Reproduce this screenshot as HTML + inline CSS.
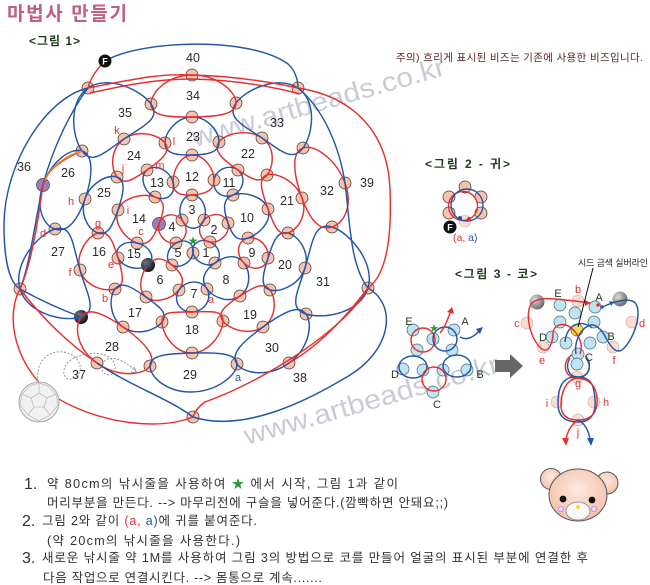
<!DOCTYPE html>
<html><head><meta charset="utf-8"><style>
html,body{margin:0;padding:0;background:#fff;}
svg{display:block;}
.bd circle{fill:#f6c3ae;stroke:#4e362e;stroke-width:0.75;}
.lb circle{fill:#bfe3f1;stroke:#4b6372;stroke-width:0.7;}
.fp circle{fill:#f9ddd2;stroke:#c9a79a;stroke-width:0.6;}
.n{font-family:"Liberation Sans",sans-serif;font-size:12.5px;fill:#2a2a2a;text-anchor:middle;}
.lt{font-family:"Liberation Sans",sans-serif;font-size:11px;fill:#e63030;text-anchor:middle;}
.kr{font-family:"Liberation Sans","Noto Sans CJK KR",sans-serif;}
.ln{fill:none;stroke-width:1.45;}
</style></head><body>
<svg id="s" width="650" height="585" viewBox="0 0 650 585" xmlns="http://www.w3.org/2000/svg">
<defs>
<radialGradient id="gk" cx="0.35" cy="0.35" r="0.7"><stop offset="0" stop-color="#777"/><stop offset="1" stop-color="#111"/></radialGradient>
<radialGradient id="gg" cx="0.35" cy="0.35" r="0.7"><stop offset="0" stop-color="#ddd"/><stop offset="1" stop-color="#666"/></radialGradient>
<radialGradient id="gp" cx="0.5" cy="0.4" r="0.7"><stop offset="0" stop-color="#fde9df"/><stop offset="1" stop-color="#f3b9a0"/></radialGradient>
</defs>

<!-- watermarks -->
<text class="kr" x="195" y="147" font-size="27" fill="#c9ccd5" textLength="262" lengthAdjust="spacingAndGlyphs" transform="rotate(-16 195 147)">www.artbeads.co.kr</text>
<text class="kr" x="247" y="445" font-size="27" fill="#c9ccd5" textLength="264" lengthAdjust="spacingAndGlyphs" transform="rotate(-16 247 445)">www.artbeads.co.kr</text>

<!-- titles -->
<text class="kr" x="7" y="20" font-size="19" font-weight="bold" fill="#c0607c" textLength="120" lengthAdjust="spacing">마법사 만들기</text>
<text class="kr" x="29" y="45" font-size="12" font-weight="bold" fill="#1e3b1e" textLength="51" lengthAdjust="spacing">&lt;그림 1&gt;</text>
<text class="kr" x="396" y="61" font-size="10.5" fill="#5a2828" textLength="247" lengthAdjust="spacing">주의) 흐리게 표시된 비즈는 기존에 사용한 비즈입니다.</text>
<text class="kr" x="425" y="168" font-size="12" font-weight="bold" fill="#1e3b1e" textLength="85" lengthAdjust="spacing">&lt;그림 2 - 귀&gt;</text>
<text class="kr" x="455" y="278" font-size="12" font-weight="bold" fill="#1e3b1e" textLength="82" lengthAdjust="spacing">&lt;그림 3 - 코&gt;</text>

<!-- main beads -->
<g class="bd">
<circle cx="192" cy="75" r="6"/><circle cx="88" cy="88" r="6"/><circle cx="298" cy="88" r="6"/>
<circle cx="151" cy="104" r="6"/><circle cx="236" cy="103" r="6"/><circle cx="192" cy="117" r="6"/>
<circle cx="124" cy="139" r="6"/><circle cx="165" cy="143" r="6"/><circle cx="219" cy="142" r="6"/>
<circle cx="262" cy="138" r="6"/><circle cx="303" cy="148" r="6"/><circle cx="82" cy="151" r="6"/>
<circle cx="192" cy="155" r="6"/><circle cx="147" cy="170" r="6"/><circle cx="117" cy="177" r="6"/>
<circle cx="173" cy="182" r="6"/><circle cx="214" cy="180" r="6"/><circle cx="238" cy="170" r="6"/>
<circle cx="267" cy="175" r="6"/><circle cx="345" cy="183" r="6"/><circle cx="85" cy="199" r="6"/>
<circle cx="155" cy="197" r="6"/><circle cx="192" cy="195" r="6"/><circle cx="233" cy="195" r="6"/>
<circle cx="302" cy="198" r="6"/><circle cx="118" cy="210" r="6"/><circle cx="182" cy="220" r="6"/>
<circle cx="204" cy="220" r="6"/><circle cx="228" cy="223" r="6"/><circle cx="268" cy="209" r="6"/>
<circle cx="98" cy="233" r="6"/><circle cx="55" cy="229" r="6"/><circle cx="137" cy="243" r="6"/>
<circle cx="176" cy="243" r="6"/><circle cx="210" cy="242" r="6"/><circle cx="248" cy="238" r="6"/>
<circle cx="288" cy="233" r="6"/><circle cx="332" cy="227" r="6"/><circle cx="193" cy="253" r="6"/>
<circle cx="118" cy="258" r="6"/><circle cx="172" cy="265" r="6"/><circle cx="215" cy="263" r="6"/>
<circle cx="244" cy="263" r="6"/><circle cx="268" cy="258" r="6"/><circle cx="305" cy="268" r="6"/>
<circle cx="80" cy="270" r="6"/><circle cx="20" cy="289" r="6"/><circle cx="115" cy="289" r="6"/>
<circle cx="146" cy="297" r="6"/><circle cx="179" cy="290" r="6"/><circle cx="207" cy="289" r="6"/>
<circle cx="240" cy="296" r="6"/><circle cx="270" cy="290" r="6"/><circle cx="368" cy="288" r="6"/>
<circle cx="192" cy="312" r="6"/><circle cx="162" cy="322" r="6"/><circle cx="223" cy="321" r="6"/>
<circle cx="123" cy="327" r="6"/><circle cx="263" cy="327" r="6"/><circle cx="306" cy="314" r="6"/>
<circle cx="192" cy="353" r="6"/><circle cx="97" cy="363" r="6"/><circle cx="150" cy="366" r="6"/>
<circle cx="237" cy="364" r="6"/><circle cx="289" cy="363" r="6"/><circle cx="193" cy="417" r="6"/>
</g>
<circle cx="43" cy="185" r="6.5" fill="#9a7fb8" stroke="#4a3a5a" stroke-width="0.7"/>
<circle cx="159" cy="224" r="6.5" fill="#9a7fb8" stroke="#4a3a5a" stroke-width="0.7"/>
<circle cx="148" cy="265" r="7" fill="url(#gk)"/>
<circle cx="81" cy="317" r="7" fill="url(#gk)"/>

<!-- main loops (generated) -->
<g id="loops"></g>

<!-- outer hand-drawn lines -->
<g class="ln">
<path stroke="#2356a8" d="M105,61 C140,40 250,36 288,64 C295,70 298,80 298,88"/>
<path stroke="#e63030" d="M105,61 C96,70 90,80 88,88 C130,80 160,73 192,75 C235,76 270,82 298,88"/>
<path stroke="#e63030" d="M90,93 C130,84 160,79 192,79 C235,80 270,86 300,94"/>
<path stroke="#2356a8" d="M88,88 C45,98 4,165 4,225 C4,262 10,283 20,289 C30,265 36,215 43,185 C52,150 70,112 88,88"/>
<path stroke="#e63030" d="M82,151 C60,160 46,172 43,185 C38,220 32,262 20,289"/>
<path stroke="#f08a20" d="M82,151 C66,155 51,167 45,180"/>
<path stroke="#e63030" d="M298,88 C345,95 388,125 390,190 C392,240 386,275 368,288"/>
<path stroke="#2356a8" d="M298,88 C325,110 340,150 345,183 C350,222 350,265 368,288"/>
<path stroke="#2356a8" d="M368,288 C398,305 392,352 345,378 C300,405 240,432 193,417"/>
<path stroke="#e63030" d="M368,288 C345,330 262,382 205,402 C199,406 195,411 193,417"/>
<path stroke="#e63030" d="M368,288 C345,318 320,345 289,363"/>
<path stroke="#e63030" d="M20,289 C2,322 20,382 70,405 C110,424 160,430 193,417"/>
<path stroke="#e63030" d="M20,289 C42,318 70,345 97,363"/>
<path stroke="#2356a8" d="M97,363 C130,386 168,398 193,417"/>
<path stroke="#2356a8" d="M20,289 C40,300 62,310 81,317"/>
</g>

<!-- F bead -->
<circle cx="105" cy="61" r="6.5" fill="#111"/>
<text x="105" y="64.5" font-family="Liberation Sans,sans-serif" font-size="9" font-weight="bold" fill="#fff" text-anchor="middle">F</text>
<!-- star -->
<text x="193" y="245" font-family="DejaVu Sans,sans-serif" font-size="12" fill="#2a9a3a" text-anchor="middle">★</text>

<!-- numbers -->
<g class="n">
<text x="206" y="257">1</text><text x="214" y="234">2</text><text x="192" y="214">3</text><text x="172" y="231">4</text>
<text x="178" y="257">5</text><text x="160" y="284">6</text><text x="194" y="298">7</text><text x="226" y="284">8</text>
<text x="252" y="257">9</text><text x="247" y="222">10</text><text x="229" y="187">11</text><text x="192" y="181">12</text>
<text x="157" y="187">13</text><text x="139" y="223">14</text><text x="134" y="258">15</text><text x="99" y="256">16</text>
<text x="135" y="317">17</text><text x="192" y="334">18</text><text x="250" y="319">19</text><text x="285" y="269">20</text>
<text x="287" y="205">21</text><text x="248" y="158">22</text><text x="193" y="141">23</text><text x="134" y="160">24</text>
<text x="104" y="197">25</text><text x="68" y="177">26</text><text x="58" y="256">27</text><text x="112" y="351">28</text>
<text x="190" y="379">29</text><text x="272" y="352">30</text><text x="323" y="286">31</text><text x="327" y="195">32</text>
<text x="277" y="127">33</text><text x="193" y="100">34</text><text x="125" y="117">35</text><text x="24" y="171">36</text>
<text x="79" y="379">37</text><text x="300" y="382">38</text><text x="367" y="187">39</text><text x="193" y="62">40</text>
</g>
<g class="lt">
<text x="117" y="134">k</text><text x="174" y="145">l</text><text x="160" y="169">m</text><text x="123" y="172">j</text>
<text x="71" y="205">h</text><text x="128" y="214">i</text><text x="98" y="227">g</text><text x="43" y="237">d</text>
<text x="141" y="235">c</text><text x="111" y="268">e</text><text x="70" y="276">f</text><text x="105" y="302">b</text>
<text x="211" y="303">a</text><text x="238" y="381" style="fill:#2356a8">a</text>
</g>

<!-- soccer ball + dotted arrow -->
<g>
<circle cx="39" cy="402" r="20" fill="#f1f1f1" stroke="#a8a8a8" stroke-width="1"/>
<g fill="none" stroke="#bdbdbd" stroke-width="0.8">
<polygon points="39,393 47,398 44,407 34,407 31,398"/>
<path d="M39,393 L39,383 M47,398 L56,394 M44,407 L50,415 M34,407 L28,415 M31,398 L22,394 M39,383 L30,386 L22,394 M39,383 L48,386 L56,394 M22,394 L20,405 L28,415 L39,421 L50,415 L58,405 L56,394"/>
</g>
<path d="M38,382 C35,362 48,350 63,352 C80,354 86,372 74,378 C63,384 58,366 74,358 C92,350 112,352 115,366 C117,378 100,378 102,365 C106,352 126,360 136,372" fill="none" stroke="#888" stroke-width="0.9" stroke-dasharray="2,1.6"/>
<path d="M131,372 L137,373 L134,367" fill="none" stroke="#888" stroke-width="0.9"/>
</g>

<!-- figure 2 ear -->
<g>
<g class="bd">
<circle cx="465" cy="187" r="6"/><circle cx="449" cy="197" r="6"/><circle cx="481" cy="197" r="6"/>
<circle cx="449" cy="213" r="6"/><circle cx="481" cy="213" r="6"/>
</g>
<circle cx="465" cy="221" r="6" fill="#f9ddd2" stroke="#d8b8aa" stroke-width="0.6"/>
<circle cx="463" cy="206" r="14.5" fill="none" stroke="#e63030" stroke-width="1.4"/>
<circle cx="467" cy="205" r="16" fill="none" stroke="#2356a8" stroke-width="1.4"/>
<circle cx="460" cy="218" r="2" fill="#2356a8"/><circle cx="469" cy="219" r="2" fill="#e63030"/>
<circle cx="450" cy="227" r="6.5" fill="#111"/>
<text x="450" y="230.5" font-family="Liberation Sans,sans-serif" font-size="9" font-weight="bold" fill="#fff" text-anchor="middle">F</text>
<text x="453" y="241" font-family="Liberation Sans,sans-serif" font-size="10.5"><tspan fill="#e63030">(a,</tspan><tspan fill="#2356a8"> a)</tspan></text>
</g>

<!-- figure 3 left -->
<g>
<g class="lb">
<circle cx="413" cy="330" r="6"/><circle cx="433" cy="339" r="6"/><circle cx="454" cy="330" r="6"/>
<circle cx="417" cy="350" r="6"/><circle cx="452" cy="350" r="6"/><circle cx="403" cy="369" r="6"/>
<circle cx="423" cy="370" r="6"/><circle cx="443" cy="370" r="6"/><circle cx="467" cy="370" r="6"/>
<circle cx="433" cy="392" r="6"/>
</g>
<g class="ln">
<circle cx="423" cy="340" r="12" stroke="#e63030"/>
<circle cx="445" cy="339" r="12" stroke="#2356a8"/>
<ellipse cx="413" cy="367" rx="14" ry="11" stroke="#2356a8"/>
<ellipse cx="457" cy="366" rx="14" ry="11" stroke="#2356a8"/>
<circle cx="434" cy="379" r="12" stroke="#e63030"/>
<path stroke="#e63030" d="M440,333 C446,326 448,318 451,310"/>
<path stroke="#2356a8" d="M460,337 C467,341 474,337 480,330"/>
</g>
<path d="M447,312 L452,307 L454,314 Z" fill="#e63030"/>
<path d="M476,329 L483,327 L480,334 Z" fill="#2356a8"/>
<text x="434" y="332" font-family="DejaVu Sans,sans-serif" font-size="11" fill="#2a9a3a" text-anchor="middle">★</text>
<g font-family="Liberation Sans,sans-serif" font-size="11" fill="#1e3b1e" text-anchor="middle">
<text x="409" y="325">E</text><text x="465" y="325">A</text><text x="395" y="378">D</text><text x="480" y="378">B</text><text x="437" y="408">C</text>
</g>
</g>

<!-- big gray arrow -->
<path d="M495,360 L510,360 L510,354 L523,366 L510,378 L510,372 L495,372 Z" fill="#666"/>

<!-- figure 3 right -->
<g>
<circle cx="537" cy="302" r="7.5" fill="url(#gg)"/>
<circle cx="620" cy="299" r="7.5" fill="url(#gg)"/>
<g class="fp">
<circle cx="578" cy="301" r="6"/><circle cx="527" cy="323" r="6"/><circle cx="632" cy="322" r="6"/>
<circle cx="543" cy="347" r="6"/><circle cx="613" cy="347" r="6"/><circle cx="577" cy="377" r="6"/>
<circle cx="557" cy="402" r="6"/><circle cx="594" cy="402" r="6"/><circle cx="578" cy="420" r="6"/>
</g>
<g class="lb">
<circle cx="560" cy="305" r="6"/><circle cx="595" cy="307" r="6"/>
<circle cx="575" cy="313" r="6"/><circle cx="560" cy="322" r="6"/><circle cx="594" cy="322" r="6"/>
<circle cx="552" cy="337" r="6"/><circle cx="603" cy="337" r="6"/><circle cx="566" cy="343" r="6"/>
<circle cx="590" cy="343" r="6"/><circle cx="578" cy="354" r="6"/><circle cx="577" cy="364" r="6"/>
</g>
<circle cx="577" cy="330" r="6" fill="#f0e050" stroke="#6a6020" stroke-width="0.7"/>
<g class="ln">
<path stroke="#e63030" d="M590,303 L575,301 C555,299 540,296 532,303 C524,312 530,340 542,349 C550,354 553,340 553,333 C554,325 562,322 570,327 C578,333 584,344 580,354"/>
<path stroke="#2356a8" d="M602,307 L612,303 C622,300 632,298 636,304 C642,314 634,340 622,350 C615,354 610,345 606,338 C602,330 595,322 588,326 C580,330 574,342 576,354"/>
<path stroke="#2356a8" d="M565,342 C566,326 580,318 592,328"/>
<path stroke="#e63030" d="M572,355 C562,360 563,378 577,378 C590,378 593,362 585,356"/>
<path stroke="#2356a8" d="M570,358 C565,366 568,377 578,377 C590,377 592,365 586,358"/>
<path stroke="#2356a8" d="M577,377 C561,376 558,390 558,404 C558,418 567,422 578,422 C590,422 596,415 595,400 C594,386 592,377 577,377"/>
<path stroke="#e63030" d="M577,378 C565,380 561,394 561,405 C561,416 568,420 578,420 C592,420 598,412 597,398 C596,386 590,379 577,378"/>
<path stroke="#e63030" d="M578,420 C571,425 567,432 566,440"/>
<path stroke="#2356a8" d="M578,420 C586,424 589,432 590,440"/>
</g>
<path d="M562,438 L566,446 L569,438 Z" fill="#e63030"/>
<path d="M587,438 L591,446 L594,438 Z" fill="#2356a8"/>
<path d="M585,300 L591,303 L585,306 Z" fill="#e63030"/>
<circle cx="598" cy="305" r="1.8" fill="#e63030"/>
<circle cx="602" cy="307" r="1.8" fill="#2356a8"/>
<path d="M609,301 L614,302 L611,306 Z" fill="#2356a8"/>
<line x1="593" y1="268" x2="578" y2="327" stroke="#111" stroke-width="1"/>
<text class="kr" x="578" y="266" font-size="9" fill="#222" textLength="70" lengthAdjust="spacing">시드 금색 실버라인</text>
<g font-family="Liberation Sans,sans-serif" font-size="11" text-anchor="middle">
<text x="558" y="297" fill="#1e3b1e">E</text><text x="578" y="293" fill="#e63030">b</text><text x="599" y="301" fill="#1e3b1e">A</text>
<text x="517" y="327" fill="#e63030">c</text><text x="642" y="327" fill="#e63030">d</text>
<text x="543" y="341" fill="#1e3b1e">D</text><text x="611" y="340" fill="#1e3b1e">B</text>
<text x="542" y="364" fill="#e63030">e</text><text x="614" y="364" fill="#e63030">f</text><text x="589" y="361" fill="#1e3b1e">C</text>
<text x="578" y="387" fill="#e63030">g</text><text x="547" y="407" fill="#e63030">i</text><text x="606" y="406" fill="#e63030">h</text>
<text x="578" y="436" fill="#e63030">j</text>
</g>
</g>

<!-- bear -->
<g>
<circle cx="551" cy="479" r="10.5" fill="url(#gp)" stroke="#555" stroke-width="1"/>
<circle cx="607" cy="483" r="11" fill="url(#gp)" stroke="#555" stroke-width="1"/>
<ellipse cx="578" cy="495" rx="29" ry="26" fill="url(#gp)" stroke="#555" stroke-width="1"/>
<g fill="none" stroke="#f3d6cb" stroke-width="0.8">
<polygon points="578,478 590,485 587,498 569,498 566,485"/>
<path d="M578,478 L578,470 M590,485 L602,482 M566,485 L554,482 M587,498 L596,508 M569,498 L560,508"/>
</g>
<circle cx="563" cy="499" r="3.4" fill="#111"/>
<circle cx="592" cy="500" r="3.4" fill="#111"/>
<circle cx="561" cy="509" r="2.6" fill="#f3d8f3" stroke="#c080d0" stroke-width="0.8"/>
<circle cx="594" cy="509" r="2.6" fill="#f3d8f3" stroke="#c080d0" stroke-width="0.8"/>
<ellipse cx="578" cy="511" rx="12" ry="9" fill="#f8f8f8" stroke="#888" stroke-width="0.8"/>
<circle cx="578" cy="507" r="2" fill="#eedd33"/>
</g>

<!-- bottom instructions -->
<g class="kr" fill="#333">
<text x="24" y="489" font-size="16">1.</text>
<text x="47" y="488" font-size="12.5" textLength="351" lengthAdjust="spacing">약 80cm의 낚시줄을 사용하여 <tspan fill="#2a9a3a">★</tspan> 에서 시작, 그림 1과 같이</text>
<text x="47" y="507" font-size="12.5" textLength="401" lengthAdjust="spacing">머리부분을 만든다. --&gt; 마무리전에 구슬을 넣어준다.(깜빡하면 안돼요;;)</text>
<text x="22" y="526" font-size="16">2.</text>
<text x="42" y="525" font-size="12.5" textLength="215" lengthAdjust="spacing">그림 2와 같이 <tspan fill="#e63030">(a,</tspan> <tspan fill="#2356a8">a)</tspan>에 귀를 붙여준다.</text>
<text x="47" y="545" font-size="12.5" textLength="193" lengthAdjust="spacing">(약 20cm의 낚시줄을 사용한다.)</text>
<text x="22" y="563" font-size="16">3.</text>
<text x="42" y="562" font-size="12.5" textLength="546" lengthAdjust="spacing">새로운 낚시줄 약 1M를 사용하여 그림 3의 방법으로 코를 만들어 얼굴의 표시된 부분에 연결한 후</text>
<text x="43" y="582" font-size="12.5" textLength="279" lengthAdjust="spacing">다음 작업으로 연결시킨다. --&gt; 몸통으로 계속.......</text>
</g>
</svg>
<script>
(function(){
var R='#e63030',B='#2356a8';
var cells=[
['b',[[193,253],[210,242],[215,263]]],
['r',[[204,220],[228,223],[210,242]]],
['b',[[192,195],[182,220],[204,220]]],
['r',[[182,220],[159,224],[176,243]]],
['b',[[176,243],[193,253],[172,265]]],
['r',[[172,265],[148,265],[146,297],[179,290]]],
['b',[[179,290],[207,289],[192,312]]],
['b',[[215,263],[244,263],[240,296],[207,289]]],
['r',[[248,238],[268,258],[244,263]]],
['b',[[228,223],[233,195],[268,209],[248,238]]],
['b',[[214,180],[238,170],[233,195]]],
['r',[[192,155],[214,180],[192,195],[173,182]]],
['b',[[147,170],[173,182],[155,197]]],
['r',[[118,210],[155,197],[159,224],[137,243]]],
['b',[[137,243],[148,265],[118,258]]],
['r',[[98,233],[118,258],[115,289],[80,270]]],
['b',[[115,289],[146,297],[162,322],[123,327]]],
['r',[[162,322],[192,312],[223,321],[192,353]]],
['r',[[240,296],[270,290],[263,327],[223,321]]],
['b',[[268,258],[288,233],[305,268],[270,290]]],
['r',[[267,175],[302,198],[288,233],[268,209]]],
['r',[[219,142],[262,138],[267,175],[238,170]]],
['b',[[192,117],[219,142],[192,155],[165,143]]],
['r',[[124,139],[165,143],[147,170],[117,177]]],
['b',[[117,177],[118,210],[98,233],[85,199]]],
['b',[[82,151],[85,199],[55,229],[43,185]]],
['b',[[55,229],[80,270],[81,317],[20,289]]],
['r',[[81,317],[123,327],[150,366],[97,363]]],
['b',[[150,366],[192,353],[237,364],[192,392]]],
['b',[[237,364],[263,327],[306,314],[289,363]]],
['b',[[305,268],[332,227],[368,288],[306,314]]],
['r',[[303,148],[345,183],[332,227],[302,198]]],
['b',[[236,103],[298,88],[303,148],[262,138]]],
['r',[[151,104],[192,75],[236,103],[192,117]]],
['b',[[88,88],[151,104],[124,139],[82,151]]]
];
function path(p,t){
 var n=p.length,cx=0,cy=0;p.forEach(function(q){cx+=q[0];cy+=q[1];});cx/=n;cy/=n;
 p=p.slice().sort(function(a,b){return Math.atan2(a[1]-cy,a[0]-cx)-Math.atan2(b[1]-cy,b[0]-cx);});
 var d='M'+p[0][0]+','+p[0][1];
 for(var i=0;i<n;i++){
  var p0=p[(i-1+n)%n],p1=p[i],p2=p[(i+1)%n],p3=p[(i+2)%n];
  var c1x=p1[0]+(p2[0]-p0[0])*t,c1y=p1[1]+(p2[1]-p0[1])*t;
  var c2x=p2[0]-(p3[0]-p1[0])*t,c2y=p2[1]-(p3[1]-p1[1])*t;
  d+=' C'+c1x.toFixed(1)+','+c1y.toFixed(1)+' '+c2x.toFixed(1)+','+c2y.toFixed(1)+' '+p2[0]+','+p2[1];
 }
 return d+'Z';
}
var g=document.getElementById('loops'),ns='http://www.w3.org/2000/svg';
cells.forEach(function(c){
 var e=document.createElementNS(ns,'path');
 e.setAttribute('d',path(c[1],c[1].length==3?0.44:0.285));
 e.setAttribute('fill','none');e.setAttribute('stroke',c[0]=='r'?R:B);e.setAttribute('stroke-width','1.45');
 g.appendChild(e);
});
})();
</script>
</body></html>
